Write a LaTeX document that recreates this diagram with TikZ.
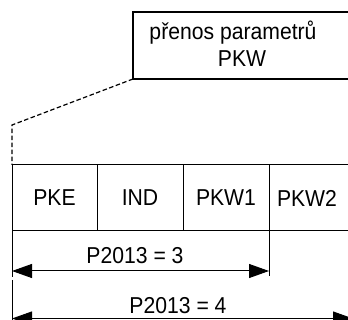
\documentclass[tikz,border=0pt]{standalone}
\usepackage{fontspec}
\setmainfont{Liberation Sans}[FakeStretch=0.92]
\usetikzlibrary{arrows.meta}
\begin{document}
\begin{tikzpicture}[x=1pt,y=-1pt,
  every node/.style={font=\fontsize{23}{27}\selectfont},
  cell/.style={draw, line width=1pt, minimum height=66pt, inner sep=0pt, outer sep=0pt, anchor=north west},
  topbox/.style={draw, line width=1.6pt, minimum width=250pt, minimum height=67pt, inner sep=0pt, outer sep=0pt, anchor=north west},
  txt/.style={inner sep=0pt, anchor=base},
  dim/.style={line width=1pt, {Triangle[length=20pt,width=14pt]}-{Triangle[length=20pt,width=14pt]}},
  ext/.style={line width=1pt},
  lead/.style={line width=1.2pt, dash pattern=on 4.5pt off 2.5pt}]
\clip (0,0) rectangle (348,320);
\fill[white] (0,0) rectangle (348,320);
% top box
\node[topbox] (box) at (133,12) {};
\node[txt] (t1) at (233,40) {přenos parametrů};
\node[txt] (t2) at (242,67) {PKW};
% table
\node[cell, minimum width=85pt] (pke) at (12,165) {PKE};
\node[cell, minimum width=86pt] (ind) at (97,165) {IND};
\node[cell, minimum width=86pt] (pkw1) at (183,165) {PKW1};
\node[cell, minimum width=90pt] (pkw2) at (269,165) {\makebox[76pt]{PKW2}\hspace*{14pt}};
% leader
\coordinate (d1) at (12,125);
\draw[lead] (box.south west) -- (d1) -- (pke.north west);
% extension lines
\coordinate (e1) at (12,277);
\coordinate (e2) at (12,280);
\coordinate (e3) at (12,325);
\coordinate (e4) at (269,276);
\draw[ext] (pke.south west) -- (e1);
\draw[ext] (e2) -- (e3);
\draw[ext] (pkw1.south east) -- (e4);
% dimension arrows
\coordinate (a1l) at (12,271);
\coordinate (a1r) at (269,271);
\draw[dim] (a1l) -- (a1r);
\node[txt] (l1) at (135,264) {P2013 = 3};
\coordinate (a2l) at (12,318.5);
\coordinate (a2r) at (353,318.5);
\draw[dim] (a2l) -- (a2r);
\node[txt] (l2) at (178,313) {P2013 = 4};
\end{tikzpicture}
\end{document}
